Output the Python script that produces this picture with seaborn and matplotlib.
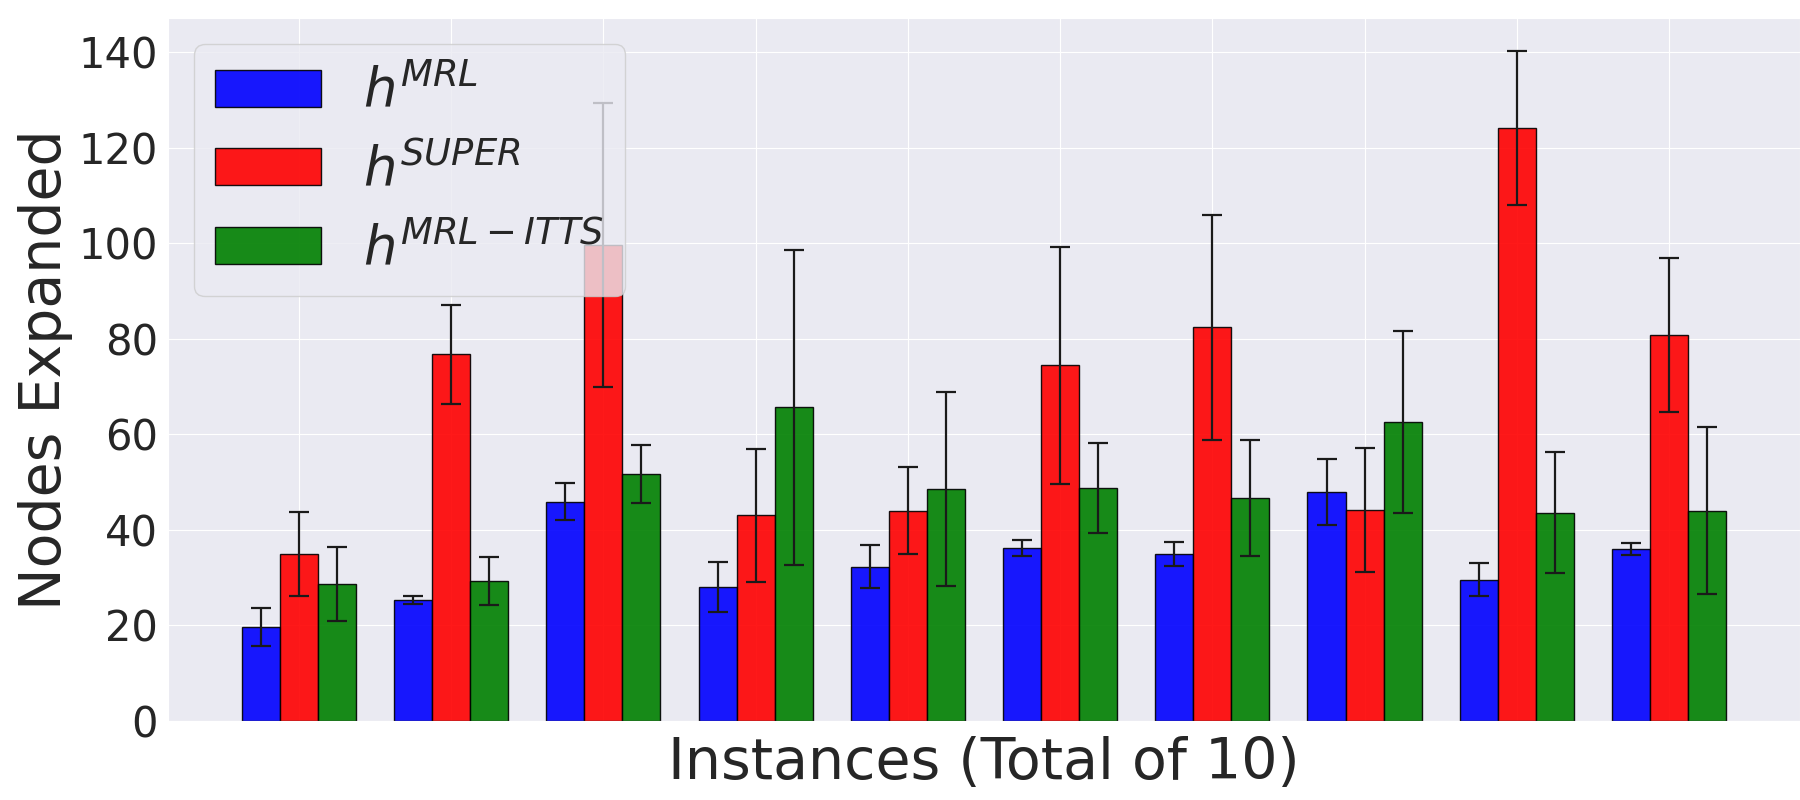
import matplotlib
matplotlib.use("Agg")
import matplotlib.pyplot as plt
import seaborn as sns
import numpy as np
import pandas as pd

# values (mean and half-width of error bar)
instances = list(range(1, 11))
labels = [r'$h^{MRL}$', r'$h^{SUPER}$', r'$h^{MRL-ITTS}$']
colors = ['b', 'r', 'g']

mrl = [19.7, 25.3, 45.9, 28.0, 32.3, 36.2, 35.0, 48.0, 29.6, 36.0]
mrl_err = [3.9, 0.8, 3.9, 5.2, 4.5, 1.6, 2.5, 6.9, 3.5, 1.2]
sup = [35.0, 76.8, 99.7, 43.1, 44.0, 74.5, 82.4, 44.2, 124.1, 80.8]
sup_err = [8.8, 10.4, 29.8, 13.9, 9.1, 24.8, 23.5, 13.0, 16.1, 16.1]
itts = [28.7, 29.3, 51.7, 65.7, 48.6, 48.8, 46.7, 62.6, 43.6, 44.0]
itts_err = [7.8, 5.1, 6.0, 33.0, 20.3, 9.5, 12.2, 19.0, 12.7, 17.5]

means = [mrl, sup, itts]
errs = [mrl_err, sup_err, itts_err]

df = pd.DataFrame({
    'instance': np.tile(instances, 3),
    'nodes': np.concatenate(means),
    'heuristic': np.repeat(labels, len(instances)),
})

sns.set_style("darkgrid")
fig = plt.figure(figsize=(18, 8), dpi=100)
ax = fig.add_axes([0.0933, 0.09875, 0.9067, 0.87875])

sns.barplot(data=df, x='instance', y='nodes', hue='heuristic', hue_order=labels,
            palette=colors, saturation=1, width=0.75, alpha=0.9,
            edgecolor='black', linewidth=1, errorbar=None, ax=ax)

n = len(instances)
bw = 0.75 / 3
for k in range(3):
    xs = np.arange(n) + (k - 1) * bw
    ax.errorbar(xs, means[k], yerr=errs[k], fmt='none', ecolor='#1a1a1a',
                elinewidth=1.6, capsize=7, capthick=1.6, zorder=5)

ax.set_xlim(-0.86, n - 1 + 0.86)
ax.set_ylim(0, 147.2)
ax.set_yticks(np.arange(0, 141, 20))
ax.set_xticks(np.arange(n))
ax.set_xticklabels([''] * n)
ax.xaxis.grid(True)
ax.yaxis.grid(True)
ax.tick_params(axis='y', labelsize=30)
ax.set_xlabel('Instances (Total of 10)', fontsize=41)
ax.set_ylabel('Nodes Expanded', fontsize=41)

handles, lbls = ax.get_legend_handles_labels()
ax.legend(handles, lbls, loc='upper left', fontsize=38)

fig.savefig('out.png', dpi=100)
